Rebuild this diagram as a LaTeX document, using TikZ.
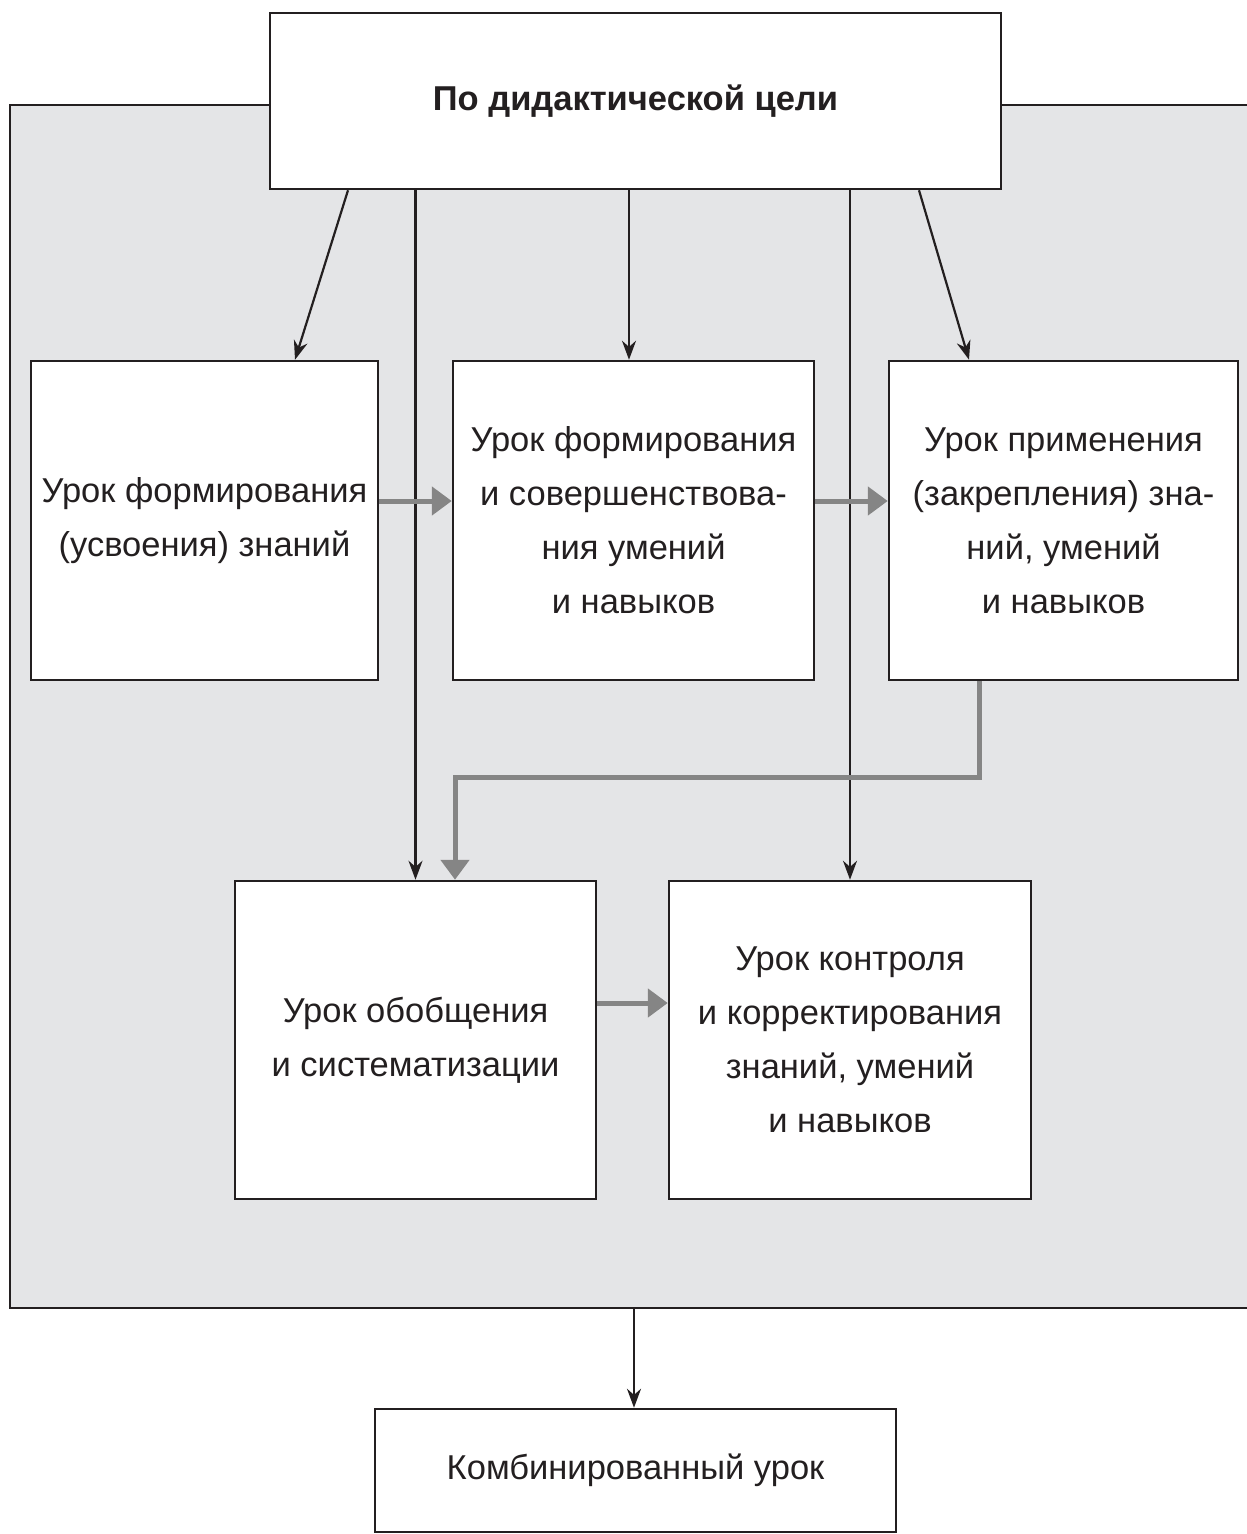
\documentclass[tikz,border=0pt]{standalone}
\usepackage{fontspec}
\setmainfont{Liberation Sans}
\usepackage{tikz}
\usetikzlibrary{arrows.meta,calc}
\definecolor{inkdark}{HTML}{231F20}
\definecolor{panelgray}{HTML}{E4E5E7}
\definecolor{flowgray}{HTML}{858585}

\begin{document}
\begin{tikzpicture}
[
    x=1pt, y=-1pt,
    every node/.style = {text=inkdark},
]

\tikzstyle{lesson}=[rectangle, draw=inkdark, line width=2.5pt, fill=white, inner sep=0pt, align=center, font=\fontsize{34.5}{54}\selectfont]
\tikzstyle{goal}=[lesson, minimum width=731pt, minimum height=176pt, font=\fontsize{34.5}{54}\selectfont\bfseries]
\tikzstyle{link}=[draw=inkdark, line width=2.2pt, -{Stealth[length=19pt,width=14pt]}]
\tikzstyle{order}=[draw=flowgray, line width=5pt, -{Triangle[length=20pt,width=28pt]}]

\useasboundingbox (0,0) rectangle (1247,1534);
% grey panel, open on the right side
\fill[panelgray] (10,105) rectangle (1250,1308);
\draw[inkdark, line width=2.5pt] (1250,105) -- (10,105) -- (10,1308) -- (1250,1308);
\coordinate (panelbot) at (634,1308);

\node (goal) [goal] at (635.5,101) {По дидактической цели};
\node (form) [lesson, minimum width=347pt, minimum height=319pt] at (204.5,520.5) {Урок формирования\\(усвоения) знаний};
\node (skill) [lesson, minimum width=361pt, minimum height=319pt] at (633.5,520.5) {Урок формирования\\и совершенствова-\\ния умений\\и навыков};
\node (apply) [lesson, minimum width=349pt, minimum height=319pt] at (1063.5,520.5) {Урок применения\\(закрепления) зна-\\ний, умений\\и навыков};
\node (gener) [lesson, minimum width=361pt, minimum height=318pt] at (415.5,1040) {Урок обобщения\\и систематизации};
\node (check) [lesson, minimum width=362pt, minimum height=318pt] at (850,1040) {Урок контроля\\и корректирования\\знаний, умений\\и навыков};
\node (combo) [lesson, minimum width=521pt, minimum height=123pt] at (635.5,1470.5) {Комбинированный урок};

%from the goal box
\draw [link] ([xshift=-287.5]goal.south) -- ([xshift=90.5]form.north);
\draw [link] (goal.south -| gener.north) -- (gener.north);
\draw [link] ([xshift=-6.5]goal.south) -- ([xshift=-4.5]skill.north);
\draw [link] (goal.south -| check.north) -- (check.north);
\draw [link] ([xshift=283.5]goal.south) -- ([xshift=-94.5]apply.north);
%sequence of lessons
\draw [order] ([yshift=19.5]form.east) -- ([yshift=19.5]skill.west);
\draw [order] ([yshift=19.5]skill.east) -- ([yshift=19.5]apply.west);
\draw [order] ([xshift=-84.5]apply.south) -- ++(0,96) -| ([xshift=39.5]gener.north);
\draw [order] ([yshift=37]gener.east) -- ([yshift=37]check.west);
\draw [link] (panelbot) -- (panelbot |- combo.north);
\end{tikzpicture}
\end{document}
